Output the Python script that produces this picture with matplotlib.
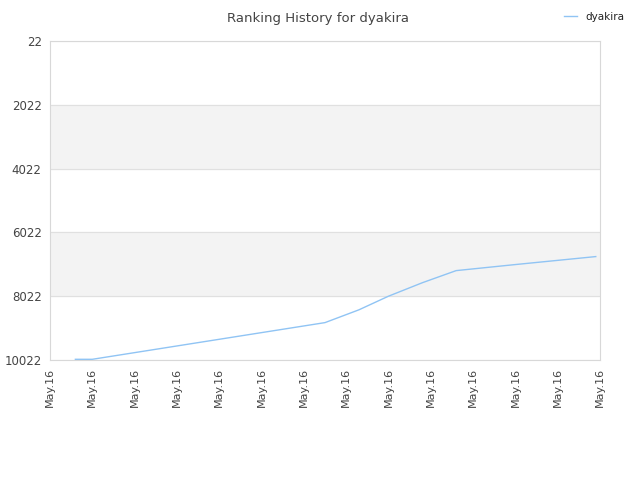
import matplotlib.pyplot as plt

# ranking data (x in tick units, one tick per label)
days = [0.6, 1.0, 6.5, 7.3, 8.0, 8.8, 9.6, 11.0, 12.9]
ranks = [10000, 10000, 8850, 8450, 8022, 7600, 7220, 7030, 6780]
tick_labels = ["May.16"] * 14
yticks = [22, 2022, 4022, 6022, 8022, 10022]

fig = plt.figure(figsize=(6.4, 4.8), dpi=100)
ax = fig.add_axes([50 / 640, 120 / 480, 550 / 640, 319 / 480])

# alternating bands
ax.axhspan(2022, 4022, color="#f3f3f3", zorder=0)
ax.axhspan(6022, 8022, color="#f3f3f3", zorder=0)
for y in yticks:
    ax.axhline(y, color="#e0e0e0", lw=0.8, zorder=1)

ax.plot(days, ranks, color="#90c4f4", lw=1.0, label="dyakira", zorder=3)

ax.set_xlim(0, 13)
ax.set_ylim(10022, 22)
ax.set_xticks(range(14))
ax.set_xticklabels(tick_labels, rotation=90, fontsize=8, color="#444444")
ax.set_yticks(yticks)
ax.set_yticklabels([str(v) for v in yticks], fontsize=8.5, color="#444444")
ax.tick_params(length=0, pad=6)
for s in ax.spines.values():
    s.set_color("#d8d8d8")

fig.text(0.497, 0.975, "Ranking History for dyakira", ha="center", va="top",
         fontsize=9.5, color="#444444")
fig.legend(loc="upper right", bbox_to_anchor=(0.99, 0.995), frameon=False,
           fontsize=7.5, handlelength=1.2, labelcolor="#222222")

fig.savefig("out.png")
